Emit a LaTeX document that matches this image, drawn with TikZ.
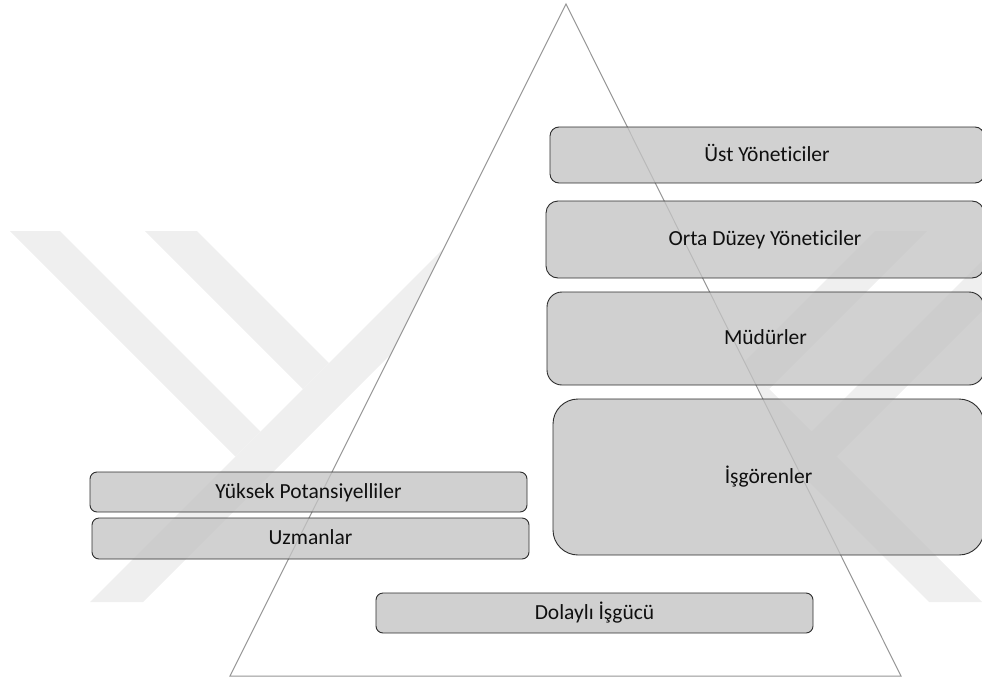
\documentclass[tikz,border=0pt]{standalone}
\usepackage{fontspec}
\setmainfont{Carlito}[Ligatures=NoCommon]
\definecolor{wm}{RGB}{239,239,239}
\definecolor{boxfill}{RGB}{196,196,196}
\definecolor{triline}{RGB}{150,150,150}
\definecolor{boxline}{RGB}{45,45,45}
\definecolor{txt}{RGB}{15,15,15}
\begin{document}
\begin{tikzpicture}[x=1pt,y=-1pt,
  lvl/.style={draw=boxline, line width=0.9pt, fill=boxfill, fill opacity=0.78,
    draw opacity=1, text opacity=1, text=txt, inner sep=0pt,
    font=\fontsize{21.5}{26}\selectfont, text height=15.5pt, text depth=3.5pt},
  wmark/.style={fill=wm, draw=none}]
\useasboundingbox (0,0) rectangle (982,680);
% watermark (left)
\fill[wmark] (90,602) -- (143,602) -- (514,231) -- (461,231) -- cycle;
\fill[wmark] (10,231) -- (60,231) -- (260.5,431.5) -- (235.5,456.5) -- cycle;
\fill[wmark] (145,231) -- (197,231) -- (329,363) -- (303,389) -- cycle;
% watermark (right)
\fill[wmark] (982,602) -- (929,602) -- (558,231) -- (611,231) -- cycle;
\fill[wmark] (1062,231) -- (1012,231) -- (811.5,431.5) -- (836.5,456.5) -- cycle;
\fill[wmark] (927,231) -- (875,231) -- (743,363) -- (769,389) -- cycle;
% triangle
\coordinate (apex) at (566,4);
\coordinate (bl) at (230,676);
\coordinate (br) at (901,676);
\draw[draw=triline, line width=1pt, fill=white, line join=miter] (apex) -- (bl) -- (br) -- cycle;
% levels
\node[lvl, minimum width=434pt, minimum height=56pt, rounded corners=9pt] (ust) at (767,155) {Üst Yöneticiler};
\node[lvl, minimum width=438pt, minimum height=77pt, rounded corners=12pt] (orta) at (765,239.5) {Orta Düzey Yöneticiler};
\node[lvl, minimum width=437pt, minimum height=93pt, rounded corners=15pt] (mud) at (765.5,338.5) {Müdürler};
\node[lvl, minimum width=431pt, minimum height=156pt, rounded corners=25pt] (isg) at (768.5,477) {İşgörenler};
\node[lvl, minimum width=437pt, minimum height=40pt, rounded corners=7pt] (yuk) at (308.5,492) {Yüksek Potansiyelliler};
\node[lvl, minimum width=437pt, minimum height=41pt, rounded corners=7pt] (uzm) at (310.5,538.5) {Uzmanlar};
\node[lvl, minimum width=437pt, minimum height=40pt, rounded corners=7pt] (dol) at (594.5,613) {Dolaylı İşgücü};
\end{tikzpicture}
\end{document}
